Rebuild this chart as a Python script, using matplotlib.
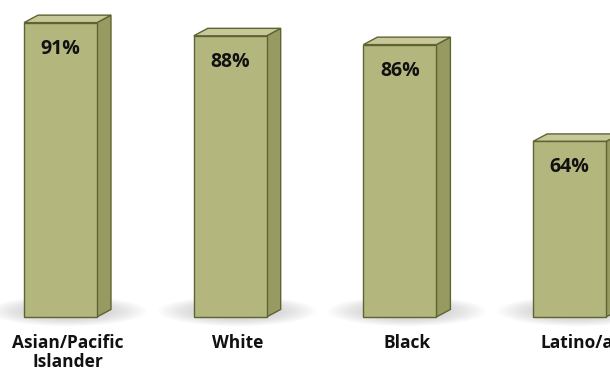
import matplotlib
matplotlib.use("Agg")
import matplotlib.pyplot as plt
from matplotlib.patches import Polygon, Ellipse

categories = ["Asian/Pacific\nIslander", "White", "Black", "Latino/a"]
values = [91, 88, 86, 64]
value_labels = ["91%", "88%", "86%", "64%"]

# style / layout constants
FRONT = "#B3B77E"
SIDE = "#979B62"
TOP = "#C6C898"
EDGE = "#5F6333"
BASE = 24.1          # axis floor value
W = 0.43             # front face width (category units)
DX = 0.0825          # depth offset x
DY = 1.7             # depth offset y (value units)

plt.rcParams["font.family"] = ["Open Sans", "DejaVu Sans"]

fig = plt.figure(figsize=(6.10, 3.75), dpi=100)
ax = fig.add_axes([0, 0, 1, 1])
ax.set_xlim(-0.3565, 3.238)
ax.set_ylim(10.9, 96.14)
ax.axis("off")

for i, (v, lab) in enumerate(zip(values, value_labels)):
    x0 = i - W / 2
    x1 = i + W / 2
    # soft shadow
    n = 20
    for k in range(n):
        f = 1 - k / n
        ax.add_patch(Ellipse((i + DX / 2, BASE + 1.3), width=0.88 * f + 0.05,
                             height=6.5 * f + 0.3, facecolor="#8a8a8a",
                             edgecolor="none", alpha=0.03, zorder=1))
    front = Polygon([(x0, BASE), (x1, BASE), (x1, v), (x0, v)], closed=True,
                    facecolor=FRONT, edgecolor=EDGE, lw=1.0, zorder=3)
    side = Polygon([(x1, BASE), (x1 + DX, BASE + DY), (x1 + DX, v + DY), (x1, v)],
                   closed=True, facecolor=SIDE, edgecolor=EDGE, lw=1.0, zorder=3)
    top = Polygon([(x0, v), (x1, v), (x1 + DX, v + DY), (x0 + DX, v + DY)],
                  closed=True, facecolor=TOP, edgecolor=EDGE, lw=1.0, zorder=3)
    for p in (side, top, front):
        ax.add_patch(p)
    ax.text(i, v - 5.9, lab, ha="center", va="center", fontsize=14,
            fontweight="bold", color="#111111", zorder=4)

for i, c in enumerate(categories):
    ax.text(i + DX / 2, 20.3, c, ha="center", va="top", fontsize=12.5,
            fontweight="bold", color="#111111", linespacing=1.1)

fig.savefig("out.png", dpi=100)
